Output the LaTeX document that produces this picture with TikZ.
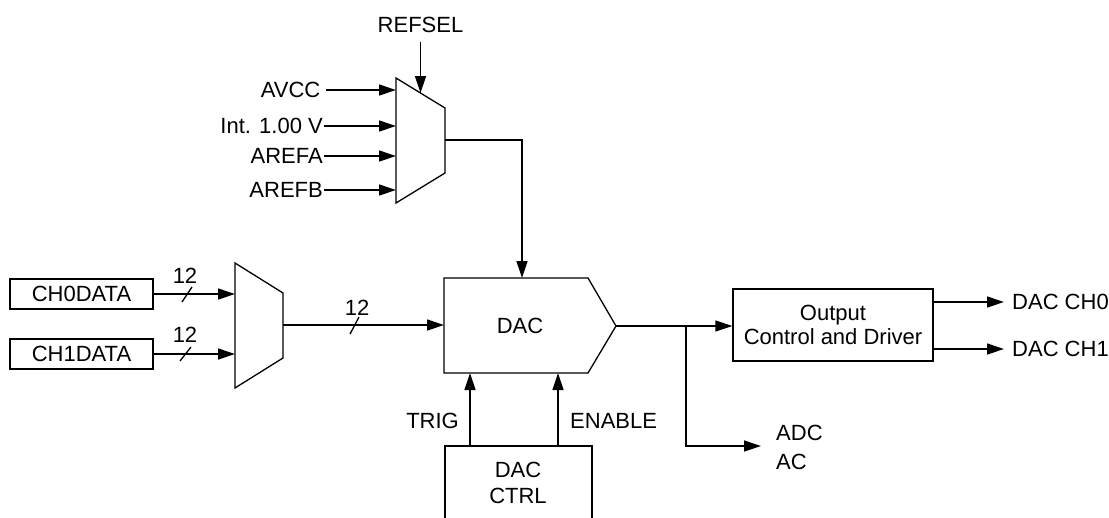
\documentclass[tikz,border=0pt]{standalone}
\usepackage{fontspec}
\setmainfont{Liberation Sans}
\usetikzlibrary{arrows.meta,calc}
\begin{document}
\begin{tikzpicture}[x=1pt,y=-1pt,
  every node/.style={font=\fontsize{22}{26}\selectfont, inner sep=0pt},
  wire/.style={line width=1.3pt, line join=miter},
  arr/.style={wire, -{Triangle[length=17pt,width=11pt]}},
  blk/.style={draw, line width=1.3pt, rectangle}
]
\useasboundingbox (0,0) rectangle (1109,517);
\clip (0,0) rectangle (1109,517);

% reference mux
\coordinate (ra) at (396,78);
\coordinate (rb) at (445,108);
\coordinate (rc) at (445,173);
\coordinate (rd) at (396,203);
\draw[wire] (ra) -- (rb) -- (rc) -- (rd) -- cycle;
\coordinate (rout) at (445,140);

\node[anchor=east, inner xsep=5.5pt] (avcc) at (326,90) {AVCC};
\node[anchor=east, inner xsep=1pt] (int) at (324,126) {Int. 1.00 V};
\node[anchor=east, inner xsep=1pt] (arefa) at (324,156) {AREFA};
\node[anchor=east, inner xsep=1pt] (arefb) at (324,190) {AREFB};
\coordinate (i1) at (396,90);
\coordinate (i2) at (396,126);
\coordinate (i3) at (396,156);
\coordinate (i4) at (396,190);
\draw[arr] (avcc.east) -- (i1);
\draw[arr] (int.east) -- (i2);
\draw[arr] (arefa.east) -- (i3);
\draw[arr] (arefb.east) -- (i4);

\node[inner ysep=9pt] (refsel) at (420.5,25) {REFSEL};
\draw[arr] (refsel.south) -- ($(ra)!0.5!(rb)$);

% DAC
\coordinate (d1) at (444,278);
\coordinate (d2) at (588,278);
\coordinate (dtip) at (616,326);
\coordinate (d4) at (588,373);
\coordinate (d5) at (444,373);
\draw[wire] (d1) -- (d2) -- (dtip) -- (d4) -- (d5) -- cycle;
\node (dac) at (520,326) {DAC};
\coordinate (dtop) at (522,278);
\coordinate (rcorner) at (522,140);
\draw[arr] (rout) -- (rcorner) -- (dtop);

% data mux
\coordinate (ma) at (235,263);
\coordinate (mb) at (283,293);
\coordinate (mc) at (283,358);
\coordinate (md) at (235,388);
\draw[wire] (ma) -- (mb) -- (mc) -- (md) -- cycle;
\coordinate (mout) at (283,325);
\coordinate (din) at (444,325);
\draw[arr] (mout) -- (din);
\draw[wire] (350,334) -- (359,317);
\node (n12c) at (357,308) {12};

\node[blk, minimum width=143pt, minimum height=30pt] (ch0) at (81.5,294) {CH0DATA};
\node[blk, minimum width=143pt, minimum height=30pt] (ch1) at (81.5,354) {CH1DATA};
\coordinate (m1) at (235,294);
\coordinate (m2) at (235,354);
\draw[arr] (ch0.east) -- (m1);
\draw[arr] (ch1.east) -- (m2);
\draw[wire] (182,302) -- (192,287);
\node (n12a) at (185,276) {12};
\draw[wire] (180,361) -- (191,347);
\node (n12b) at (185,335) {12};

% DAC CTRL
\draw[wire] (445,540) -- (445,446) -- (592,446) -- (592,540);
\coordinate (ctrltop1) at (470,446);
\coordinate (ctrltop2) at (558,446);
\node[align=center, font=\fontsize{22}{26}\selectfont] (ctrl) at (518,483) {DAC\\CTRL};
\draw[arr] (ctrltop1) -- (470,373);
\draw[arr] (ctrltop2) -- (558,373);
\node[anchor=east] (trig) at (459,421) {TRIG};
\node[anchor=west] (enable) at (570,421) {ENABLE};

% output block
\node[blk, minimum width=200pt, minimum height=72pt, align=center, font=\fontsize{22}{24}\selectfont] (outb) at (833,325) {Output\\Control and Driver};
\draw[arr] (dtip) -- (outb.west |- dtip);
\coordinate (junc) at (686,326);
\coordinate (jdown) at (686,446);
\coordinate (adcend) at (761,446);
\draw[arr] (junc) -- (jdown) -- (adcend);
\node[anchor=west, align=left, font=\fontsize{22}{29}\selectfont] (adc) at (776,447) {ADC\\AC};

\node[anchor=west] (ch0o) at (1012,302) {DAC CH0};
\node[anchor=west] (ch1o) at (1012,349) {DAC CH1};
\coordinate (o0) at (1004,302);
\coordinate (o1) at (1004,349);
\draw[arr] (outb.east |- o0) -- (o0);
\draw[arr] (outb.east |- o1) -- (o1);
\end{tikzpicture}
\end{document}
